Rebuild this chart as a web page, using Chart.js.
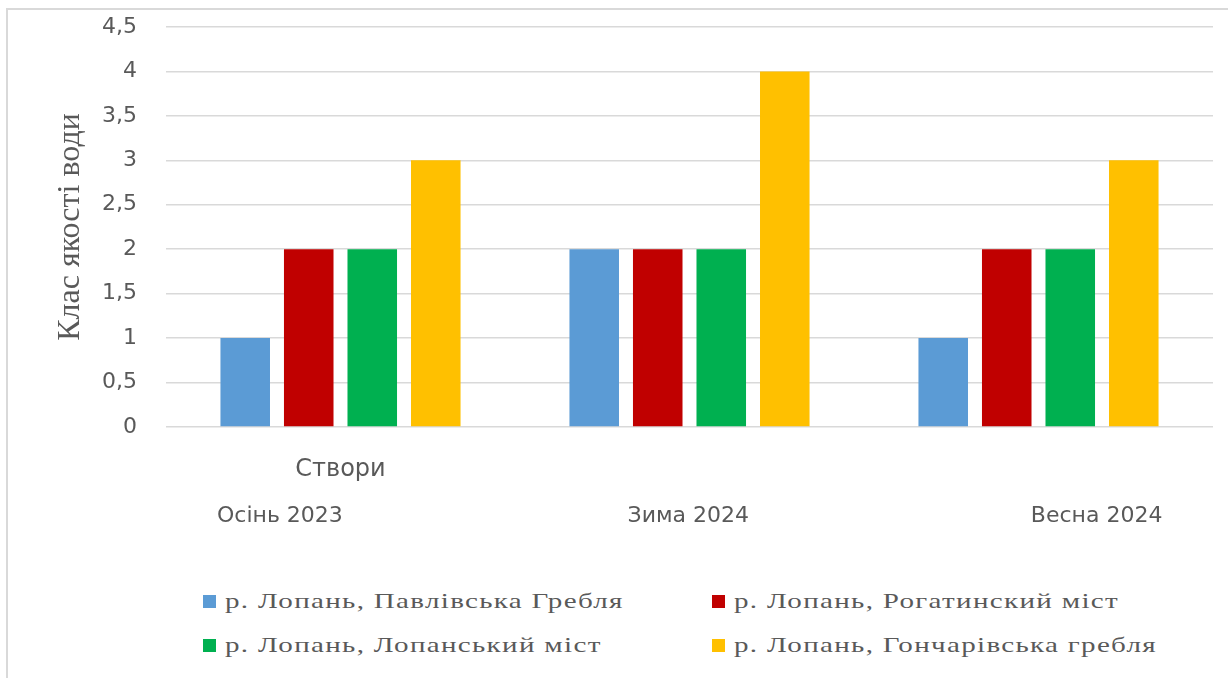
<!DOCTYPE html>
<html>
<head>
<meta charset="utf-8">
<script src="https://cdn.jsdelivr.net/npm/chart.js@4"></script>
<style>
  html, body { margin: 0; padding: 0; background: #fff; }
  #wrap { position: relative; width: 1228px; height: 678px; overflow: hidden; background: #fff; }
  #frame { position: absolute; left: 6px; top: 8px; width: 1300px; height: 720px; border: 2px solid #d9d9d9; box-sizing: border-box; }
  #cv { position: absolute; left: 0; top: 0; }
  .item { position: absolute; height: 30px; display: flex; align-items: center; }
  .sw { width: 13px; height: 13px; margin-right: 9px; }
  .lt { font-family: "Liberation Serif", "Times New Roman", serif; font-size: 22px; color: #595959; letter-spacing: 1px; display: inline-block; transform: scaleX(1.32); transform-origin: left center; white-space: nowrap; line-height: 30px; }
</style>
</head>
<body>
<div id="wrap">
  <div id="frame"></div>
  <canvas id="cv" width="1228" height="560"></canvas>
  <div id="legend"></div>
</div>
<script>
const categories = ["Осінь 2023", "Зима 2024", "Весна 2024"];
const seriesNames = ["р. Лопань, Павлівська Гребля", "р. Лопань, Рогатинский міст", "р. Лопань, Лопанський міст", "р. Лопань, Гончарівська гребля"];
const pavlivska = [1, 2, 1];
const rohatynskyi = [2, 2, 2];
const lopanskyi = [2, 2, 2];
const honcharivska = [3, 4, 3];
const colors = ["#5B9BD5", "#C00000", "#00B050", "#FFC000"];
const yTitle = "Клас якості води";
const xTitle = "Створи";

const seriesValues = [pavlivska, rohatynskyi, lopanskyi, honcharivska];

const xTitlePlugin = {
  id: 'xTitlePlugin',
  afterDraw(chart) {
    const ctx = chart.ctx;
    const x = chart.scales.x.getPixelForValue(0);
    ctx.save();
    ctx.font = '24px "DejaVu Sans", sans-serif';
    ctx.fillStyle = '#595959';
    ctx.textAlign = 'center';
    ctx.textBaseline = 'middle';
    ctx.fillText(xTitle, x, 470);
    ctx.restore();
  }
};

new Chart(document.getElementById('cv'), {
  type: 'bar',
  data: {
    labels: categories,
    datasets: seriesNames.map((n, i) => ({
      label: n,
      data: seriesValues[i],
      backgroundColor: colors[i],
      borderWidth: 0,
      categoryPercentage: 0.728,
      barPercentage: 0.78
    }))
  },
  options: {
    responsive: false,
    animation: false,
    layout: { padding: { left: 0, right: 15, top: 27, bottom: 0 } },
    plugins: { legend: { display: false }, tooltip: { enabled: false } },
    scales: {
      x: { display: false },
      x2: {
        type: 'linear',
        position: 'bottom',
        offset: false,
        min: -0.279,
        max: 2.285,
        grid: { display: true, drawOnChartArea: false, offset: false, color: 'rgba(0,0,0,0)', tickColor: 'rgba(0,0,0,0)', drawTicks: true, tickLength: 76 },
        border: { display: false },
        afterBuildTicks(scale) { scale.ticks = [0, 1, 2].map(v => ({ value: v })); },
        afterFit(scale) { scale.height = 133; },
        ticks: {
          autoSkip: false,
          maxRotation: 0,
          padding: 0,
          color: '#595959',
          font: { family: '"DejaVu Sans", sans-serif', size: 22 },
          callback: (v) => categories[v]
        }
      },
      y: {
        min: 0,
        max: 4.5,
        afterFit(scale) { scale.width = 166; },
        ticks: {
          stepSize: 0.5,
          padding: 0,
          color: '#595959',
          font: { family: '"DejaVu Sans", sans-serif', size: 22 },
          callback: (v) => String(v).replace('.', ',')
        },
        grid: { color: '#d9d9d9', lineWidth: 1.5, drawTicks: true, tickLength: 29, tickColor: 'rgba(0,0,0,0)' },
        border: { display: false },
        title: {
          display: true,
          text: yTitle,
          color: '#595959',
          font: { family: '"Liberation Serif", "Times New Roman", serif', size: 32 },
          padding: { top: 51, bottom: 0 }
        }
      }
    }
  },
  plugins: [xTitlePlugin]
});

const legend = document.getElementById('legend');
const pos = [[203, 601], [712, 601], [203, 645], [712, 645]];
seriesNames.forEach((n, i) => {
  const d = document.createElement('div');
  d.className = 'item';
  d.style.left = pos[i][0] + 'px';
  d.style.top = (pos[i][1] - 15) + 'px';
  const sw = document.createElement('div');
  sw.className = 'sw';
  sw.style.background = colors[i];
  const t = document.createElement('span');
  t.className = 'lt';
  t.textContent = n;
  d.appendChild(sw);
  d.appendChild(t);
  legend.appendChild(d);
});
</script>
</body>
</html>
